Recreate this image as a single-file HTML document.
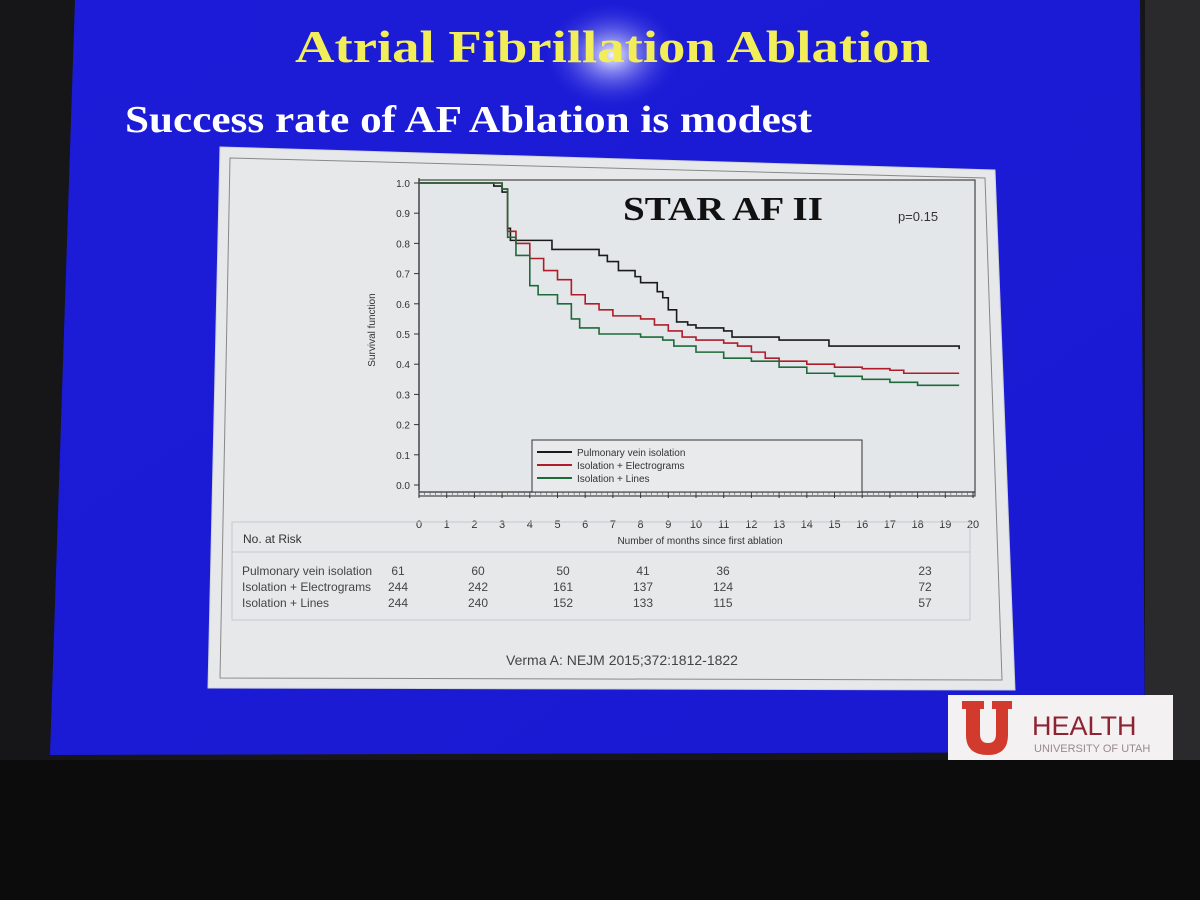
<!DOCTYPE html>
<html><head><meta charset="utf-8"><style>
html,body{margin:0;padding:0;width:1200px;height:900px;overflow:hidden;background:#151516;}
svg{display:block}
</style></head><body>
<svg width="1200" height="900" xmlns="http://www.w3.org/2000/svg">
<defs>
<radialGradient id="glow" cx="0.5" cy="0.5" r="0.5">
<stop offset="0" stop-color="#ffffff" stop-opacity="0.95"/>
<stop offset="0.3" stop-color="#c8c8ff" stop-opacity="0.6"/>
<stop offset="1" stop-color="#2020e0" stop-opacity="0"/>
</radialGradient>
<linearGradient id="slidebg" x1="0" y1="0" x2="1" y2="1">
<stop offset="0" stop-color="#1c1cd8"/>
<stop offset="1" stop-color="#1a1ad2"/>
</linearGradient>
</defs>
<rect x="0" y="0" width="1200" height="900" fill="#161618"/>
<rect x="1145" y="0" width="55" height="760" fill="#2a2a2c"/>
<rect x="0" y="760" width="1200" height="140" fill="#0c0c0d"/>
<polygon points="75,0 1140,0 1145,752 50,755" fill="url(#slidebg)"/>
<ellipse cx="612" cy="55" rx="70" ry="55" fill="url(#glow)"/>
<text x="295" y="62" textLength="635" lengthAdjust="spacingAndGlyphs" font-family="Liberation Serif, serif" font-weight="bold" font-size="46" fill="#f2ee5a">Atrial Fibrillation Ablation</text>
<text x="125" y="132" textLength="687" lengthAdjust="spacingAndGlyphs" font-family="Liberation Serif, serif" font-weight="bold" font-size="38" fill="#ffffff">Success rate of AF Ablation is modest</text>
<polygon points="220,147 995,170 1015,690 208,688" fill="#e6e8ea" stroke="#cfd2d6"/>
<polygon points="230,158 985,178 1002,680 220,678" fill="none" stroke="#888" stroke-width="1"/>
<g id="chart"></g>
<g>
<rect x="948" y="695" width="225" height="65" fill="#f3f1f1"/>
<path d="M962,701 h22 v8 h-4 v25 q0,9 8,9 q8,0 8,-9 v-25 h-4 v-8 h20 v8 h-4 v26 q0,20 -20,20 q-22,0 -22,-20 v-26 h-4z" fill="#d23a2e"/>
<text x="1032" y="735" font-family="Liberation Sans, sans-serif" font-size="27" fill="#8e2433">HEALTH</text>
<text x="1034" y="752" font-family="Liberation Sans, sans-serif" font-size="11" fill="#9a8890">UNIVERSITY OF UTAH</text>
</g>
</svg>
<script>
const pviT=[0,2.7,3.0,3.2,3.3,4.6,4.8,6.2,6.5,6.8,7.2,7.8,8.0,8.6,8.8,9.0,9.3,9.7,10.0,11.0,11.3,13.0,14.8,19.5];
const pviS=[1,0.99,0.97,0.85,0.81,0.81,0.78,0.78,0.76,0.74,0.71,0.69,0.67,0.64,0.62,0.58,0.54,0.53,0.52,0.51,0.49,0.48,0.46,0.45];
const egmT=[0,3.0,3.2,3.5,4,4.5,5,5.5,6,6.5,7,8,8.5,9,9.5,10,11,11.5,12,12.5,13,14,15,16,17,17.5,19.5];
const egmS=[1,0.98,0.84,0.80,0.75,0.71,0.68,0.63,0.60,0.58,0.56,0.55,0.53,0.51,0.49,0.48,0.47,0.46,0.44,0.42,0.41,0.40,0.39,0.385,0.38,0.37,0.37];
const linT=[0,3.0,3.2,3.5,4,4.3,5,5.5,5.8,6.5,8,8.8,9.2,10,11,12,13,14,15,16,17,18,19.5];
const linS=[1,0.98,0.82,0.76,0.66,0.63,0.60,0.55,0.52,0.50,0.49,0.48,0.46,0.44,0.42,0.41,0.39,0.37,0.36,0.35,0.34,0.33,0.33];
const xTicks=[0,1,2,3,4,5,6,7,8,9,10,11,12,13,14,15,16,17,18,19,20];
const yTicks=[0,0.1,0.2,0.3,0.4,0.5,0.6,0.7,0.8,0.9,1.0];
const riskRows=["Pulmonary vein isolation","Isolation + Electrograms","Isolation + Lines"];
const riskPvi=["61","60","50","41","36","23"];
const riskEgm=["244","242","161","137","124","72"];
const riskLin=["244","240","152","133","115","57"];

const NS="http://www.w3.org/2000/svg";
const g=document.getElementById('chart');
const X=v=>419+v*(973-419)/20;
const Y=v=>485-v*(485-183);
function mk(tag,attrs,parent){const e=document.createElementNS(NS,tag);for(const k in attrs)e.setAttribute(k,attrs[k]);(parent||g).appendChild(e);return e;}
function txt(x,y,s,size,anchor,fill,family){const e=mk('text',{x:x,y:y,'font-size':size,'text-anchor':anchor||'start',fill:fill||'#333','font-family':family||'Liberation Sans, sans-serif'});e.textContent=s;return e;}

let fr=mk('rect',{x:419,y:180,width:556,height:316,fill:'#e4e7e9',stroke:'#444','stroke-width':1.2});


let ay=mk('line',{x1:419,y1:178,x2:419,y2:490,stroke:'#333','stroke-width':1.2});


let ax=mk('line',{x1:419,y1:492,x2:975,y2:492,stroke:'#333','stroke-width':1.2});


yTicks.forEach(v=>{
  mk('line',{x1:414,y1:Y(v),x2:419,y2:Y(v),stroke:'#333'});
  const t=txt(410,Y(v)+4,v.toFixed(1),10,'end');
  
  
});
xTicks.forEach(v=>{
  mk('line',{x1:X(v),y1:492,x2:X(v),y2:498,stroke:'#333'});
  const t=txt(X(v),528,String(v),11,'middle');
  
  
});
for(let i=0;i<100;i++){mk('line',{x1:X(i*0.2),y1:492,x2:X(i*0.2),y2:495,stroke:'#555','stroke-width':0.6});}
let xt=txt(700,544,'Number of months since first ablation',10,'middle');


let yt=txt(0,0,'Survival function',10,'middle');
yt.setAttribute('transform','translate(375,330) rotate(-90)');


let ct=txt(623,220,'STAR AF II',34,'start','#111','Liberation Serif, serif');
ct.setAttribute('font-weight','bold');
ct.setAttribute('textLength','200');
ct.setAttribute('lengthAdjust','spacingAndGlyphs');


let pv=txt(918,221,'p=0.15',13,'middle');



function stepPath(T,S){let d='M'+X(T[0])+','+Y(S[0]);for(let i=1;i<T.length;i++){d+=' H'+X(T[i])+' V'+Y(S[i]);}return d;}
const series=[[pviT,pviS,'#1a1a1a','curve-pvi'],[egmT,egmS,'#b01c2a','curve-electrograms'],[linT,linS,'#1e6a3a','curve-lines']];
series.forEach(s=>{
  const p=mk('path',{d:stepPath(s[0],s[1]),fill:'none',stroke:s[2],'stroke-width':1.6});
  
  
});
let lg=mk('rect',{x:532,y:440,width:330,height:52,fill:'#e8eaec',stroke:'#333'});


const legNames=['Pulmonary vein isolation','Isolation + Electrograms','Isolation + Lines'];
legNames.forEach((n,i)=>{
  const yy=452+i*13;
  mk('line',{x1:537,y1:yy,x2:572,y2:yy,stroke:series[i][2],'stroke-width':2});
  const t=txt(577,yy+4,n,10,'start');
  
  
});
mk('rect',{x:232,y:522,width:738,height:98,fill:'none',stroke:'#c6c9cc'});
mk('line',{x1:232,y1:552,x2:970,y2:552,stroke:'#c6c9cc'});
let nr=txt(243,543,'No. at Risk',12,'start');


const colX=[398,478,563,643,723,925];
const vals=[riskPvi,riskEgm,riskLin];
riskRows.forEach((r,i)=>{
  const yy=575+i*16;
  const t=txt(242,yy,r,12,'start','#444');
  
  
  vals[i].forEach((v,j)=>{
    const c=txt(colX[j],yy,v,12,'middle','#444');
    
    
  });
});
let cit=txt(622,665,'Verma A: NEJM 2015;372:1812-1822',14,'middle','#444');


</script>
</body></html>
